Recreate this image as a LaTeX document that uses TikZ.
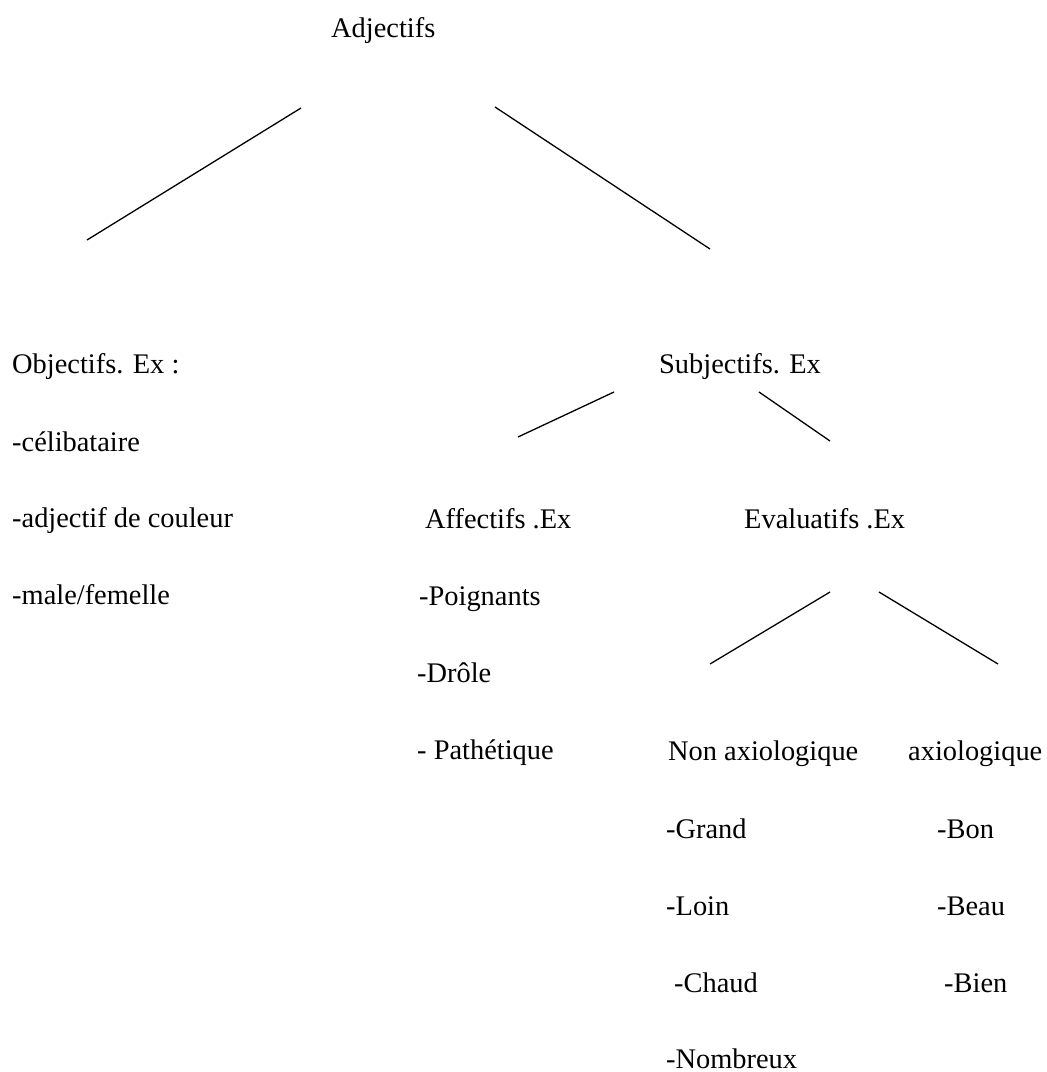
\documentclass[tikz,border=0pt]{standalone}
\usepackage{fontspec}
\setmainfont{Liberation Serif}
\begin{document}
\begin{tikzpicture}[x=1pt,y=-1pt,
  lbl/.style={anchor=base west,inner sep=0pt,font=\fontsize{28.4}{34}\selectfont},
  branch/.style={line width=1.3pt,black}]
\useasboundingbox (0,0) rectangle (1047,1072);
% titles
\node[lbl] (adj) at (331,37) {Adjectifs};
\node[lbl] (obj) at (12,373) {Objectifs. Ex :};
\node[lbl] (sub) at (659,373) {Subjectifs. Ex};
\node[lbl] (aff) at (425,528) {Affectifs .Ex};
\node[lbl] (eva) at (744,528) {Evaluatifs .Ex};
\node[lbl] (nonax) at (668,760) {Non axiologique};
\node[lbl] (ax) at (908,760) {axiologique};
% objectifs examples
\node[lbl] (o1) at (12,451) {-célibataire};
\node[lbl] (o2) at (12,527) {-adjectif de couleur};
\node[lbl] (o3) at (12,604) {-male/femelle};
% affectifs examples
\node[lbl] (a1) at (419,605) {-Poignants};
\node[lbl] (a2) at (417,682) {-Drôle};
\node[lbl] (a3) at (417,759) {- Pathétique};
% non axiologique examples
\node[lbl] (n1) at (666,838) {-Grand};
\node[lbl] (n2) at (666,915) {-Loin};
\node[lbl] (n3) at (674,992) {-Chaud};
\node[lbl] (n4) at (666,1068) {-Nombreux};
% axiologique examples
\node[lbl] (x1) at (937,838) {-Bon};
\node[lbl] (x2) at (937,915) {-Beau};
\node[lbl] (x3) at (944,992) {-Bien};
% connector end points
\coordinate (adjL) at (301,108);
\coordinate (objT) at (87,240);
\coordinate (adjR) at (495,107);
\coordinate (subT) at (710,249);
\coordinate (subL) at (614,392);
\coordinate (affT) at (518,437);
\coordinate (subR) at (759,392);
\coordinate (evaT) at (830,441);
\coordinate (evaL) at (830,592);
\coordinate (nonT) at (710,664);
\coordinate (evaR) at (879,592);
\coordinate (axT) at (998,664);
\draw[branch] (adjL) -- (objT);
\draw[branch] (adjR) -- (subT);
\draw[branch] (subL) -- (affT);
\draw[branch] (subR) -- (evaT);
\draw[branch] (evaL) -- (nonT);
\draw[branch] (evaR) -- (axT);
\end{tikzpicture}
\end{document}
